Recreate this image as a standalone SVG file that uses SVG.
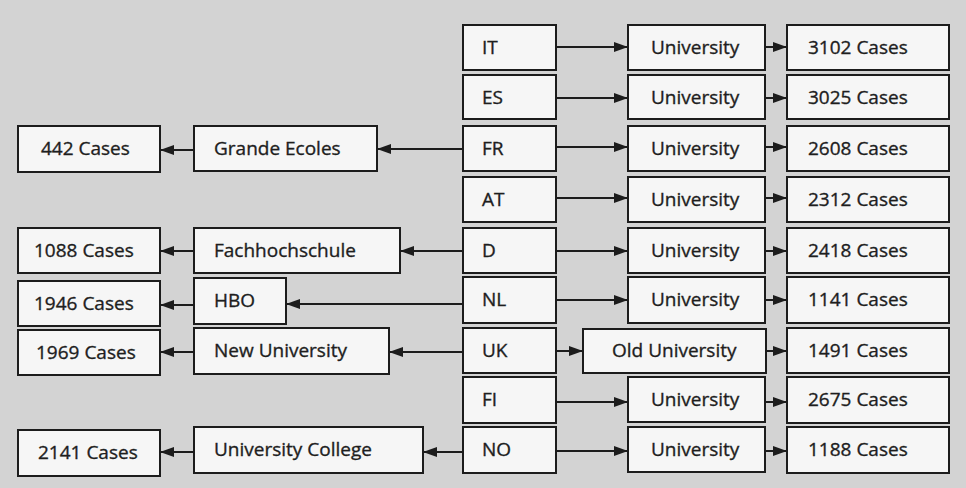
<svg xmlns="http://www.w3.org/2000/svg" width="966" height="488" viewBox="0 0 966 488">
<defs>
<style>
.bx{fill:#f6f6f6;stroke:#1c1c1c;stroke-width:2}
.t{font-family:"Open Sans","Noto Sans","Liberation Sans",sans-serif;font-size:19px;fill:#1e1e1e;stroke:#1e1e1e;stroke-width:0.35}
.c{stroke:#1c1c1c;stroke-width:2;fill:none;marker-end:url(#ah)}
</style>
<marker id="ah" viewBox="0 0 14 10" refX="14" refY="5" markerWidth="15" markerHeight="10" markerUnits="userSpaceOnUse" orient="auto">
<path d="M0,0 L14,5 L0,10 z" fill="#1c1c1c"/>
</marker>
</defs>
<rect x="0" y="0" width="966" height="488" fill="#d3d3d3"/>

<g id="connectors">
<line class="c" x1="556" y1="47" x2="628" y2="47"/>
<line class="c" x1="765" y1="47" x2="787" y2="47"/>
<line class="c" x1="556" y1="98" x2="628" y2="98"/>
<line class="c" x1="765" y1="98" x2="787" y2="98"/>
<line class="c" x1="556" y1="147" x2="628" y2="147"/>
<line class="c" x1="765" y1="147" x2="787" y2="147"/>
<line class="c" x1="556" y1="198" x2="628" y2="198"/>
<line class="c" x1="765" y1="198" x2="787" y2="198"/>
<line class="c" x1="556" y1="251" x2="628" y2="251"/>
<line class="c" x1="765" y1="251" x2="787" y2="251"/>
<line class="c" x1="556" y1="300" x2="628" y2="300"/>
<line class="c" x1="765" y1="300" x2="787" y2="300"/>
<line class="c" x1="556" y1="351" x2="583" y2="351"/>
<line class="c" x1="766" y1="351" x2="787" y2="351"/>
<line class="c" x1="556" y1="402" x2="628" y2="402"/>
<line class="c" x1="765" y1="402" x2="787" y2="402"/>
<line class="c" x1="556" y1="451" x2="628" y2="451"/>
<line class="c" x1="765" y1="451" x2="787" y2="451"/>
<line class="c" x1="463" y1="149" x2="377" y2="149"/>
<line class="c" x1="194" y1="150" x2="160" y2="150"/>
<line class="c" x1="463" y1="251" x2="400" y2="251"/>
<line class="c" x1="194" y1="251" x2="160" y2="251"/>
<line class="c" x1="463" y1="304" x2="286" y2="304"/>
<line class="c" x1="194" y1="305" x2="160" y2="305"/>
<line class="c" x1="463" y1="352" x2="389" y2="352"/>
<line class="c" x1="194" y1="352" x2="160" y2="352"/>
<line class="c" x1="463" y1="452" x2="423" y2="452"/>
<line class="c" x1="194" y1="452" x2="160" y2="452"/>
</g>

<g id="n-it"><rect class="bx" x="463" y="25" width="93" height="45"/><text class="t" x="482" y="54">IT</text></g>
<g id="n-es"><rect class="bx" x="463" y="75" width="93" height="44"/><text class="t" x="482" y="104">ES</text></g>
<g id="n-fr"><rect class="bx" x="463" y="126" width="93" height="45"/><text class="t" x="482" y="155">FR</text></g>
<g id="n-at"><rect class="bx" x="463" y="177" width="93" height="45"/><text class="t" x="482" y="206">AT</text></g>
<g id="n-d"><rect class="bx" x="463" y="228" width="93" height="45"/><text class="t" x="482" y="257">D</text></g>
<g id="n-nl"><rect class="bx" x="463" y="277" width="93" height="46"/><text class="t" x="482" y="306">NL</text></g>
<g id="n-uk"><rect class="bx" x="463" y="328" width="93" height="45"/><text class="t" x="482" y="357">UK</text></g>
<g id="n-fi"><rect class="bx" x="463" y="377" width="93" height="46"/><text class="t" x="482" y="406">FI</text></g>
<g id="n-no"><rect class="bx" x="463" y="427" width="93" height="46"/><text class="t" x="482" y="456">NO</text></g>

<g id="u-it"><rect class="bx" x="628" y="25" width="137" height="45"/><text class="t" x="651" y="54">University</text></g>
<g id="u-es"><rect class="bx" x="628" y="75" width="137" height="44"/><text class="t" x="651" y="104">University</text></g>
<g id="u-fr"><rect class="bx" x="628" y="126" width="137" height="45"/><text class="t" x="651" y="155">University</text></g>
<g id="u-at"><rect class="bx" x="628" y="177" width="137" height="45"/><text class="t" x="651" y="206">University</text></g>
<g id="u-d"><rect class="bx" x="628" y="228" width="137" height="45"/><text class="t" x="651" y="257">University</text></g>
<g id="u-nl"><rect class="bx" x="628" y="277" width="137" height="46"/><text class="t" x="651" y="306">University</text></g>
<g id="u-uk"><rect class="bx" x="583" y="329" width="183" height="44"/><text class="t" x="612" y="357">Old University</text></g>
<g id="u-fi"><rect class="bx" x="628" y="377" width="137" height="45"/><text class="t" x="651" y="406">University</text></g>
<g id="u-no"><rect class="bx" x="628" y="427" width="137" height="45"/><text class="t" x="651" y="456">University</text></g>

<g id="c-it"><rect class="bx" x="787" y="25" width="162" height="45"/><text class="t" x="808" y="54">3102 Cases</text></g>
<g id="c-es"><rect class="bx" x="787" y="75" width="162" height="44"/><text class="t" x="808" y="104">3025 Cases</text></g>
<g id="c-fr"><rect class="bx" x="787" y="126" width="162" height="45"/><text class="t" x="808" y="155">2608 Cases</text></g>
<g id="c-at"><rect class="bx" x="787" y="177" width="162" height="45"/><text class="t" x="808" y="206">2312 Cases</text></g>
<g id="c-d"><rect class="bx" x="787" y="228" width="162" height="45"/><text class="t" x="808" y="257">2418 Cases</text></g>
<g id="c-nl"><rect class="bx" x="787" y="277" width="162" height="46"/><text class="t" x="808" y="306">1141 Cases</text></g>
<g id="c-uk"><rect class="bx" x="787" y="328" width="162" height="45"/><text class="t" x="808" y="357">1491 Cases</text></g>
<g id="c-fi"><rect class="bx" x="787" y="377" width="162" height="46"/><text class="t" x="808" y="406">2675 Cases</text></g>
<g id="c-no"><rect class="bx" x="787" y="427" width="162" height="46"/><text class="t" x="808" y="456">1188 Cases</text></g>

<g id="s-fr"><rect class="bx" x="194" y="126" width="183" height="45"/><text class="t" x="214" y="155">Grande Ecoles</text></g>
<g id="s-d"><rect class="bx" x="194" y="228" width="206" height="45"/><text class="t" x="214" y="257">Fachhochschule</text></g>
<g id="s-nl"><rect class="bx" x="194" y="278" width="92" height="46"/><text class="t" x="214" y="307">HBO</text></g>
<g id="s-uk"><rect class="bx" x="194" y="328" width="195" height="46"/><text class="t" x="214" y="357">New University</text></g>
<g id="s-no"><rect class="bx" x="194" y="427" width="229" height="46"/><text class="t" x="214" y="456">University College</text></g>

<g id="l-fr"><rect class="bx" x="18" y="126" width="142" height="46"/><text class="t" x="41" y="155">442 Cases</text></g>
<g id="l-d"><rect class="bx" x="18" y="228" width="142" height="45"/><text class="t" x="34" y="257">1088 Cases</text></g>
<g id="l-nl"><rect class="bx" x="18" y="281" width="142" height="45"/><text class="t" x="34" y="310">1946 Cases</text></g>
<g id="l-uk"><rect class="bx" x="18" y="330" width="142" height="45"/><text class="t" x="36" y="359">1969 Cases</text></g>
<g id="l-no"><rect class="bx" x="18" y="430" width="142" height="46"/><text class="t" x="38" y="459">2141 Cases</text></g>
</svg>
